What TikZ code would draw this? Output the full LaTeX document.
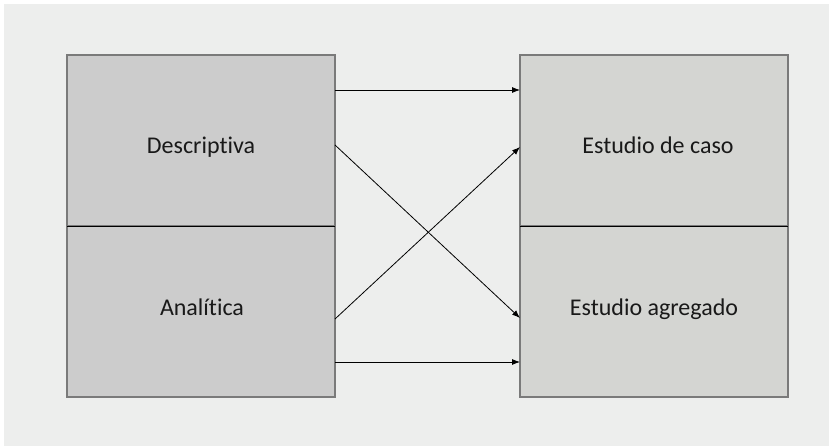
\documentclass[tikz,border=0pt]{standalone}
\usepackage{fontspec}
\setmainfont{Carlito}[Ligatures=NoCommon]
\usetikzlibrary{arrows.meta}
\definecolor{pagebg}{HTML}{EDEEED}
\definecolor{leftfill}{HTML}{CCCCCC}
\definecolor{rightfill}{HTML}{D4D5D2}
\definecolor{boxline}{HTML}{7A7A7A}
\tikzset{
  panel/.style={draw=boxline, line width=1.2pt, minimum width=268pt, minimum height=171pt, inner sep=0pt, outer sep=0pt},
  lbl/.style={font=\fontsize{24}{28}\selectfont, anchor=base, text=black!90},
  link/.style={draw=black, line width=0.8pt, -{Latex[length=8pt,width=6pt]}},
  divider/.style={draw=black, line width=0.9pt}
}
\begin{document}
\begin{tikzpicture}[x=1pt,y=-1pt]
  \useasboundingbox (0,0) rectangle (829,446);
  \fill[pagebg] (4,4) rectangle (829,446);
  % left column
  \node[panel, fill=leftfill] (desc) at (201,140.5) {};
  \node[panel, fill=leftfill] (anal) at (201,311.5) {};
  % right column
  \node[panel, fill=rightfill] (caso) at (654,140.5) {};
  \node[panel, fill=rightfill] (agre) at (654,311.5) {};
  \draw[divider] (desc.south west) -- (desc.south east);
  \draw[divider] (caso.south west) -- (caso.south east);
  % labels
  \node[lbl] (tdesc) at (201,154) {Descriptiva};
  \node[lbl] (tanal) at (202,315) {Analítica};
  \node[lbl] (tcaso) at (658,154) {Estudio de caso};
  \node[lbl] (tagre) at (654,315) {Estudio agregado};
  % connectors (shifts are in page points, positive = up)
  \coordinate (d1) at ([yshift=50.5pt]desc.east);
  \coordinate (d2) at ([yshift=-4.5pt]desc.east);
  \coordinate (a1) at ([yshift=-7.5pt]anal.east);
  \coordinate (a2) at ([yshift=-50.5pt]anal.east);
  \coordinate (c1) at ([yshift=50.5pt]caso.west);
  \coordinate (c2) at ([yshift=-6.5pt]caso.west);
  \coordinate (g1) at ([yshift=-6.5pt]agre.west);
  \coordinate (g2) at ([yshift=-50.5pt]agre.west);
  \draw[link] (d1) -- (c1);
  \draw[link] (d2) -- (g1);
  \draw[link] (a1) -- (c2);
  \draw[link] (a2) -- (g2);
\end{tikzpicture}
\end{document}
